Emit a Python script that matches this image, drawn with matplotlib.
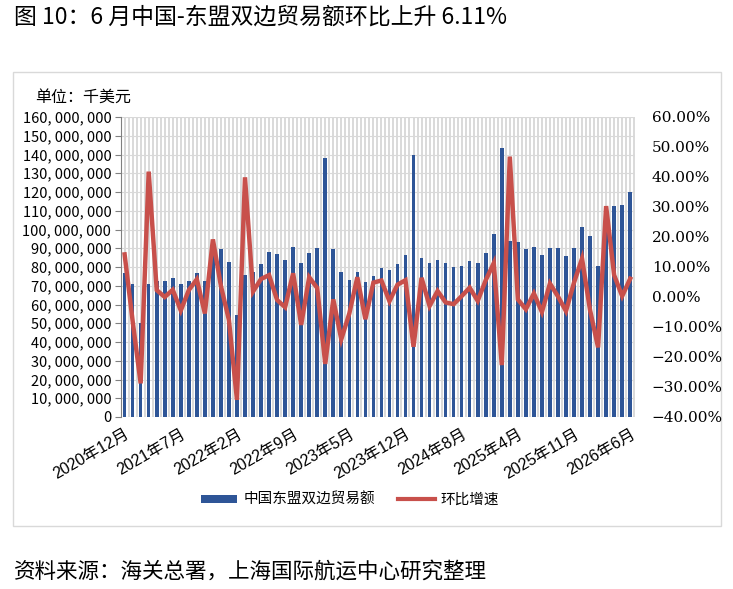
import matplotlib
matplotlib.use('Agg')
import matplotlib.pyplot as plt
from matplotlib.patches import Rectangle, Patch
from matplotlib.lines import Line2D
from matplotlib.ticker import FuncFormatter, MultipleLocator

plt.rcParams['font.family'] = ['Noto Sans CJK SC', 'DejaVu Sans']

# 月份（2023、2024、2025年缺1月，2月为1-2月合计）
months = (['2020年12月']
          + [f'2021年{m}月' for m in range(1, 13)]
          + [f'2022年{m}月' for m in range(1, 13)]
          + [f'2023年{m}月' for m in range(2, 13)]
          + [f'2024年{m}月' for m in range(2, 13)]
          + [f'2025年{m}月' for m in range(2, 13)]
          + [f'2026年{m}月' for m in range(1, 7)])

# 中国东盟双边贸易额（千美元）
trade = [77.0, 70.8, 50.4, 71.1, 72.7, 72.5, 74.1, 70.9, 72.5, 76.8, 72.5, 86.4, 89.6, 82.7, 54.3, 76.0,
         77.3, 81.8, 87.8, 86.9, 83.9, 90.5, 82.1, 87.5, 90.3, 138.1, 89.8, 77.2, 72.9, 77.5, 72.0, 75.4,
         79.5, 78.2, 81.6, 86.2, 139.9, 84.8, 82.3, 83.9, 82.3, 80.2, 80.7, 83.2, 82.0, 87.5, 97.6, 143.6,
         94.0, 93.5, 89.6, 90.7, 86.2, 90.0, 90.3, 85.9, 90.3, 101.1, 96.5, 80.4, 105.0, 112.6, 112.9, 119.8]
trade = [v * 1e6 for v in trade]

# 环比增速（%）
mom = [14.2, -8.0, -28.8, 41.8, 2.3, 0.0, 2.4, -4.5, 2.3, 5.9, -5.5, 19.2, 3.7, -7.7, -34.3, 39.9,
       1.8, 6.0, 7.3, -1.0, -3.4, 7.9, -9.3, 6.6, 3.0, -22.3, -0.8, -14.1, -5.5, 6.6, -7.4, 4.8,
       5.5, -1.4, 4.1, 5.6, -16.6, 6.4, -3.0, 2.0, -1.8, -2.4, 0.3, 3.1, -1.3, 5.6, 11.3, -22.7,
       46.8, -0.8, -4.1, 1.2, -5.0, 4.5, 0.2, -4.7, 4.8, 12.8, -4.4, -16.8, 30.3, 7.3, 0.3, 6.11]

bar_color = '#2E5597'
line_color = '#C8504B'
x = list(range(len(months)))

fig = plt.figure(figsize=(7.33, 5.89), dpi=100)
W, H = 733, 589

def fx(px):
    return px / W

def fy(py):
    return 1 - py / H

# 图表外框
fig.patches.append(Rectangle((fx(13), fy(526)), fx(721) - fx(13), fy(72) - fy(526),
                             transform=fig.transFigure, facecolor='none',
                             edgecolor='#d9d9d9', linewidth=1, zorder=-1))

ax = fig.add_axes([fx(121), fy(417), fx(635) - fx(121), fy(117) - fy(417)])
ax.set_facecolor('none')

# 背景竖线
for k in range(-1, 2 * len(months) + 1):
    ax.axvline(k * 0.5, color='#d0d0d0', linewidth=1.1, zorder=0)

ax.bar(x, trade, width=0.45, color=bar_color, zorder=2)
ax.set_xlim(-0.45, 63.6)
ax.set_ylim(0, 160e6)
ax.yaxis.set_major_locator(MultipleLocator(10e6))
ax.yaxis.grid(True, color='#d9d9d9', linewidth=0.8, zorder=1)
ax.set_axisbelow(True)
ax.yaxis.set_major_formatter(FuncFormatter(lambda v, p: f'{int(v):,}'.replace(',', ', ')))
ax.tick_params(axis='y', labelsize=10.5, length=4, color='#808080', pad=3)
for s in ['top', 'right', 'bottom']:
    ax.spines[s].set_visible(False)
ax.spines['left'].set_color('#808080')

tick_idx = x[::7]
ax.set_xticks(tick_idx)
ax.set_xticklabels([months[i] for i in tick_idx], rotation=30, ha='right', va='top',
                   rotation_mode='anchor', fontsize=11.5,
                   family=['Liberation Sans', 'Noto Sans CJK SC'])
ax.tick_params(axis='x', length=0, pad=7)

ax2 = ax.twinx()
ax2.plot(x, mom, color=line_color, linewidth=3.2, solid_joinstyle='miter', zorder=3)
ax2.set_ylim(-40, 60)
ax2.yaxis.set_major_locator(MultipleLocator(10))
ax2.yaxis.set_major_formatter(FuncFormatter(lambda v, p: f'{v:.2f}%'.replace('-', '\u2212')))
ax2.tick_params(axis='y', length=0, pad=12)
for lab in ax2.get_yticklabels():
    lab.set_family('DejaVu Serif')
    lab.set_fontsize(11)
for s in ax2.spines.values():
    s.set_visible(False)

fig.text(fx(35), fy(97), '单位：千美元', fontsize=11.5, va='center', ha='left')

handles = [Patch(facecolor=bar_color, edgecolor='none'),
           Line2D([0], [0], color=line_color, linewidth=3)]
fig.legend(handles, ['中国东盟双边贸易额', '环比增速'], loc='center',
           bbox_to_anchor=(fx(350), fy(500)), ncol=2, frameon=False, fontsize=10.5,
           handlelength=2.5, handleheight=0.5, columnspacing=1.6, handletextpad=0.4)

fig.text(fx(14), fy(17), '图 10：6 月中国-东盟双边贸易额环比上升 6.11%', fontsize=16.5,
         va='center', ha='left')
fig.text(fx(14), fy(572), '资料来源：海关总署，上海国际航运中心研究整理', fontsize=15.5,
         va='center', ha='left')

fig.savefig('out.png', dpi=100, facecolor='white')
